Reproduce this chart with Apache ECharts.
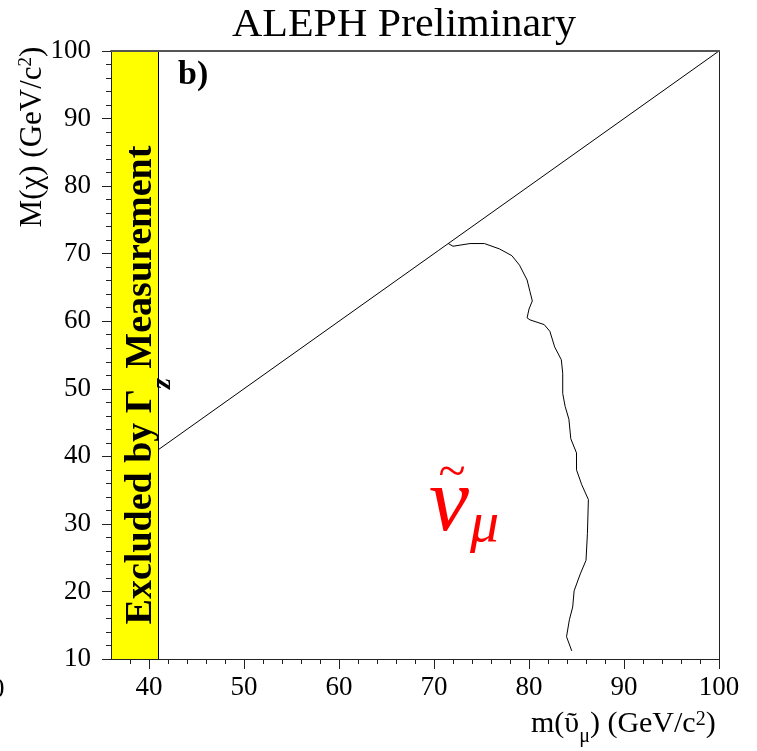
<!DOCTYPE html>
<html>
<head>
<meta charset="utf-8">
<script src="https://cdn.jsdelivr.net/npm/echarts@6/dist/echarts.min.js"></script>
<style>html,body{margin:0;padding:0;background:#fff}#c{width:757px;height:751px}</style>
</head>
<body>
<div id="c"></div>
<script>
// ---- data ----
const xRange = [36, 100];
const yRange = [10, 100];
const xMajorTicks = [40, 50, 60, 70, 80, 90, 100];
const xMinorTicks = [38, 42, 44, 46, 48, 52, 54, 56, 58, 62, 64, 66, 68, 72, 74, 76, 78, 82, 84, 86, 88, 92, 94, 96, 98];
const bandX = [36, 41];          // excluded by Gamma_Z
const bandY = [10, 100];
const diagX = [41, 100];         // kinematic limit m = M
const diagY = [41, 100];
const curveX = [71.5, 72.0, 73.8, 75.3, 76.9, 78.2, 79.0, 79.8, 80.1, 80.35, 80.0, 79.8, 80.1, 81.6, 82.2, 82.7, 83.4, 83.55, 83.55, 83.8, 84.2, 84.4, 85.0, 85.0, 85.55, 86.25, 86.15, 86.0, 85.4, 84.75, 84.6, 84.25, 83.95, 84.5];
const curveY = [71.5, 71.1, 71.5, 71.5, 70.7, 69.7, 68.3, 66.1, 64.4, 63.0, 61.8, 60.5, 60.2, 59.5, 58.5, 56.2, 54.3, 52.3, 49.3, 47.4, 45.5, 42.6, 40.5, 38.0, 35.8, 33.6, 28.6, 24.6, 22.6, 20.1, 17.7, 15.8, 13.3, 11.2];

const serif = "'Liberation Serif', 'DejaVu Serif', serif";
const zip = (a, b) => a.map((v, i) => [v, b[i]]);

const chart = echarts.init(document.getElementById('c'), null, {renderer: 'canvas'});
const axisLineStyle = {color: '#222', width: 1};
const frameStyle = {color: '#555', width: 2};
const opt = {
  animation: false,
  backgroundColor: '#fff',
  grid: {left: 111, right: 38, top: 51, bottom: 92},
  xAxis: [
    {type: 'value', min: xRange[0], max: xRange[1], position: 'bottom', z: 10,
     axisLine: {show: true, onZero: false, lineStyle: axisLineStyle},
     axisTick: {show: true, customValues: xMajorTicks, length: 10, lineStyle: axisLineStyle},
     axisLabel: {customValues: xMajorTicks, margin: 15, fontFamily: serif, fontSize: 27, color: '#000'},
     splitLine: {show: false}},
    {type: 'value', min: xRange[0], max: xRange[1], position: 'bottom', z: 10,
     axisLine: {show: false, onZero: false},
     axisTick: {show: true, customValues: xMinorTicks, length: 5, lineStyle: axisLineStyle},
     axisLabel: {show: false}, splitLine: {show: false}},
    {type: 'value', min: xRange[0], max: xRange[1], position: 'top', z: 10,
     axisLine: {show: true, onZero: false, lineStyle: frameStyle},
     axisTick: {show: false}, axisLabel: {show: false}, splitLine: {show: false}}
  ],
  yAxis: [
    {type: 'value', min: yRange[0], max: yRange[1], interval: 10, position: 'left', z: 10,
     axisLine: {show: true, onZero: false, lineStyle: axisLineStyle},
     axisTick: {show: true, length: 9, lineStyle: axisLineStyle},
     minorTick: {show: true, splitNumber: 5, length: 5, lineStyle: axisLineStyle},
     axisLabel: {margin: 20, fontFamily: serif, fontSize: 27, color: '#000'},
     splitLine: {show: false}},
    {type: 'value', min: yRange[0], max: yRange[1], position: 'right', z: 10,
     axisLine: {show: true, onZero: false, lineStyle: axisLineStyle},
     axisTick: {show: false}, axisLabel: {show: false}, splitLine: {show: false}}
  ],
  series: [
    {name: 'band', type: 'line', data: [], silent: true,
     markArea: {silent: true, itemStyle: {color: '#ffff00', opacity: 1},
       data: [[{xAxis: bandX[0], yAxis: bandY[0]}, {xAxis: bandX[1], yAxis: bandY[1]}]]}},
    {name: 'bandEdge', type: 'line', data: [[bandX[1], bandY[0]], [bandX[1], bandY[1]]],
     symbol: 'none', lineStyle: {color: '#000', width: 1}, z: 4},
    {name: 'diag', type: 'line', data: zip(diagX, diagY), symbol: 'none',
     lineStyle: {color: '#000', width: 1}, z: 4},
    {name: 'limit', type: 'line', data: zip(curveX, curveY), symbol: 'none',
     lineStyle: {color: '#000', width: 1}, z: 4}
  ],
  graphic: [
    {type: 'text', x: 404, y: 25.5, scaleX: 1.05, z: 20, style: {text: 'ALEPH Preliminary', font: '40px ' + serif, fill: '#000', align: 'center', verticalAlign: 'middle'}},
    {type: 'text', x: 178, y: 75.5, z: 20, style: {text: 'b)', font: 'bold 34px ' + serif, fill: '#000', align: 'left', verticalAlign: 'middle'}},
    {type: 'text', x: -9, y: 690, z: 20, style: {text: '0', font: '27px ' + serif, fill: '#000', align: 'left', verticalAlign: 'middle'}},
    {type: 'text', x: 144, y: 385, rotation: Math.PI / 2, z: 20,
     style: {text: '{m|Excluded by Γ}{s|z}{m| Measurement}', align: 'center', verticalAlign: 'middle',
       rich: {
         m: {fontFamily: serif, fontWeight: 'bold', fontSize: 38, lineHeight: 44, verticalAlign: 'top', color: '#000'},
         s: {fontFamily: serif, fontWeight: 'bold', fontStyle: 'italic', fontSize: 28, lineHeight: 28, padding: [27, 0, 0, 0], verticalAlign: 'top', color: '#000'}
       }}},
    {type: 'text', x: 35, y: 137, rotation: Math.PI / 2, z: 20,
     style: {text: '{m|M(χ) (GeV/c}{p|2}{m|)}', align: 'center', verticalAlign: 'middle',
       rich: {
         m: {fontFamily: serif, fontSize: 31, lineHeight: 36, verticalAlign: 'top', color: '#000'},
         p: {fontFamily: serif, fontSize: 19, lineHeight: 19, verticalAlign: 'top', color: '#000'}
       }}},
    {type: 'text', x: 531, y: 727.3, z: 20,
     style: {text: '{m|m(ῦ}{s|μ}{m|) (GeV/c}{p|2}{m|)}', align: 'left', verticalAlign: 'middle',
       rich: {
         m: {fontFamily: serif, fontSize: 30, lineHeight: 36, verticalAlign: 'top', color: '#000'},
         s: {fontFamily: serif, fontSize: 20, lineHeight: 20, padding: [17.4, 0, 0, 0], verticalAlign: 'top', color: '#000'},
         p: {fontFamily: serif, fontSize: 20, lineHeight: 20, verticalAlign: 'top', color: '#000'}
       }}},
    {type: 'text', x: 429, y: 506, z: 20, style: {text: 'ν', font: 'italic 90px ' + serif, fill: '#ff0000', align: 'left', verticalAlign: 'middle'}},
    {type: 'text', x: 452, y: 474, z: 20, style: {text: '~', font: '50px ' + serif, fill: '#ff0000', align: 'center', verticalAlign: 'middle'}},
    {type: 'text', x: 470, y: 526, z: 20, style: {text: 'μ', font: 'italic 58px ' + serif, fill: '#ff0000', align: 'left', verticalAlign: 'middle'}}
  ]
};
chart.setOption(opt);
</script>
</body>
</html>
